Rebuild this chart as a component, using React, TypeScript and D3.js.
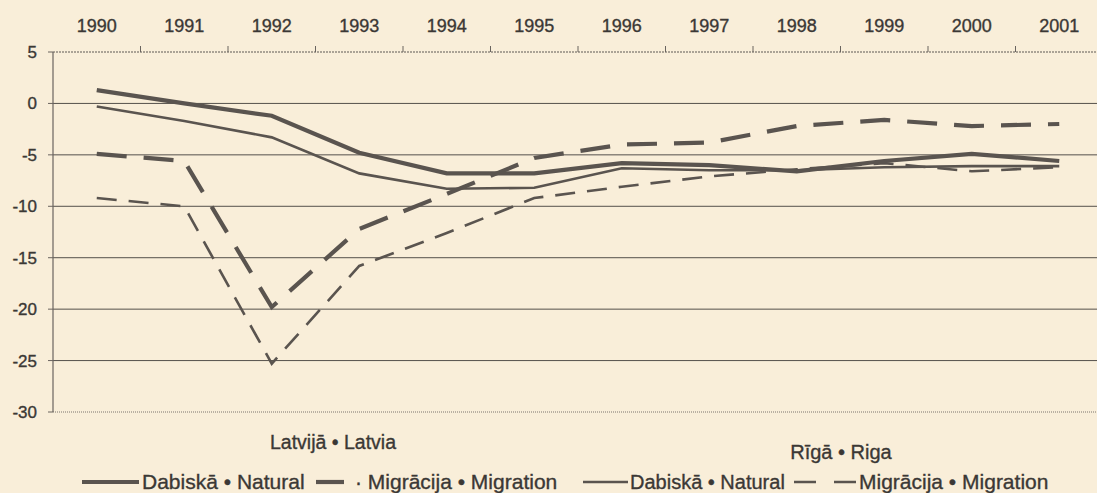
import React, { useEffect, useRef } from 'react'
import * as d3 from 'd3'

// years on the top axis
const years: string[] = ['1990', '1991', '1992', '1993', '1994', '1995', '1996', '1997', '1998', '1999', '2000', '2001']

// Latvia (thick lines)
const latviaNatural: number[] = [1.3, 0.0, -1.2, -4.8, -6.8, -6.8, -5.8, -6.0, -6.6, -5.6, -4.9, -5.6]
const latviaMigration: number[] = [-4.9, -5.6, -19.8, -12.2, -8.8, -5.3, -4.0, -3.8, -2.2, -1.6, -2.2, -2.0]

// Riga (thin lines)
const rigaNatural: number[] = [-0.3, -1.7, -3.3, -6.8, -8.3, -8.2, -6.3, -6.5, -6.5, -6.2, -6.1, -6.1]
const rigaMigration: number[] = [-9.2, -10.0, -25.3, -15.8, -12.6, -9.2, -8.1, -7.1, -6.4, -5.8, -6.6, -6.2]

const yTicks: number[] = [5, 0, -5, -10, -15, -20, -25, -30]

export default function App() {
    const ref = useRef<SVGSVGElement>(null)

    let width = 1097, height = 493
    let ink = '#5a544f', textColor = '#3b3835', bg = '#f9eed9'
    let font = '"Liberation Sans", Arial, sans-serif'

    useEffect(() => {
        const svg = d3.select(ref.current)
        svg.selectAll('*').remove()

        svg.append('rect')
            .attr('width', width)
            .attr('height', height)
            .attr('fill', bg)

        var x = d3.scaleBand()
            .domain(years)
            .range([53, 1103])
            .padding(0)

        var y = d3.scaleLinear()
            .domain([-30, 5])
            .range([412, 52])

        let left = 53, right = width

        // horizontal grid lines
        svg.append('g')
            .selectAll('line')
            .data(yTicks.filter(d => d > -30 && d < 5))
            .enter()
            .append('line')
            .attr('x1', left)
            .attr('x2', right)
            .attr('y1', d => y(d))
            .attr('y2', d => y(d))
            .attr('stroke', '#55504b')
            .attr('stroke-width', 1)

        // top axis line and bottom line (dotted look)
        svg.append('line')
            .attr('x1', left).attr('x2', right)
            .attr('y1', y(5)).attr('y2', y(5))
            .attr('stroke', '#5e5954').attr('stroke-width', 1.2)
            .attr('stroke-dasharray', '2,1')
        svg.append('line')
            .attr('x1', left).attr('x2', right)
            .attr('y1', y(-30)).attr('y2', y(-30))
            .attr('stroke', '#7a746e').attr('stroke-width', 1)
            .attr('stroke-dasharray', '1,1')

        // y axis
        svg.append('line')
            .attr('x1', left).attr('x2', left)
            .attr('y1', y(5)).attr('y2', y(-30))
            .attr('stroke', '#6a645f').attr('stroke-width', 1.2)

        svg.append('g')
            .selectAll('line')
            .data(yTicks)
            .enter()
            .append('line')
            .attr('x1', left - 5)
            .attr('x2', left)
            .attr('y1', d => y(d))
            .attr('y2', d => y(d))
            .attr('stroke', '#6a645f')

        const heavy = (sel: any) => sel
            .style('font-family', font)
            .style('fill', textColor)
            .style('stroke', textColor)
            .style('stroke-width', 0.35)

        svg.append('g')
            .selectAll('text')
            .data(yTicks)
            .enter()
            .append('text')
            .attr('x', 37)
            .attr('y', d => y(d) + 6)
            .attr('text-anchor', 'end')
            .text(d => d)
            .style('font-size', '17px')
            .call(heavy)

        // top ticks at band boundaries
        svg.append('g')
            .selectAll('line')
            .data(years.slice(1))
            .enter()
            .append('line')
            .attr('x1', d => x(d)!)
            .attr('x2', d => x(d)!)
            .attr('y1', y(5) - 6)
            .attr('y2', y(5))
            .attr('stroke', '#6a645f')

        svg.append('g')
            .selectAll('text')
            .data(years)
            .enter()
            .append('text')
            .attr('x', d => x(d)! + x.bandwidth() / 2)
            .attr('y', 32)
            .attr('text-anchor', 'middle')
            .text(d => d)
            .style('font-size', '18px')
            .call(heavy)

        const line = d3.line<number>()
            .x((d, i) => x(years[i])! + x.bandwidth() / 2)
            .y(d => y(d))

        const series = [
            { data: rigaMigration, w: 2.6, dash: '20,12' },
            { data: rigaNatural, w: 2.6, dash: null },
            { data: latviaMigration, w: 4.2, dash: '30,17' },
            { data: latviaNatural, w: 4.2, dash: null },
        ]

        series.forEach(s => {
            svg.append('path')
                .datum(s.data)
                .attr('d', line)
                .attr('fill', 'none')
                .attr('stroke', ink)
                .attr('stroke-width', s.w)
                .attr('stroke-dasharray', s.dash)
        })

        // group titles
        svg.append('text')
            .attr('x', 333).attr('y', 449)
            .attr('text-anchor', 'middle')
            .text('Latvijā • Latvia')
            .style('font-size', '19.5px')
            .call(heavy)
        svg.append('text')
            .attr('x', 841).attr('y', 459)
            .attr('text-anchor', 'middle')
            .text('Rīgā • Riga')
            .style('font-size', '20px')
            .call(heavy)

        // legend
        let ly = 482
        const legend = [
            { x1: 82, x2: 139, w: 4.2, dash: null, tx: 142, label: 'Dabiskā • Natural', fs: 21 },
            { x1: 316, x2: 344, w: 4.2, dash: null, tx: 355, label: '· Migrācija • Migration', fs: 21 },
            { x1: 583, x2: 628, w: 2.6, dash: null, tx: 630, label: 'Dabiskā • Natural', fs: 20 },
            { x1: 794, x2: 856, w: 2.6, dash: '22,18', tx: 859, label: 'Migrācija • Migration', fs: 21 },
        ]
        legend.forEach(l => {
            svg.append('line')
                .attr('x1', l.x1).attr('x2', l.x2)
                .attr('y1', ly).attr('y2', ly)
                .attr('stroke', ink)
                .attr('stroke-width', l.w)
                .attr('stroke-dasharray', l.dash)
            svg.append('text')
                .attr('x', l.tx).attr('y', ly + 7)
                .text(l.label)
                .style('font-size', l.fs + 'px')
                .call(heavy)
        })
    }, [])

    return (
        <div style={{ position: 'absolute', left: 0, top: 0 }}>
            <svg ref={ref} width={width} height={height} style={{ display: 'block' }} />
        </div>
    )
}
